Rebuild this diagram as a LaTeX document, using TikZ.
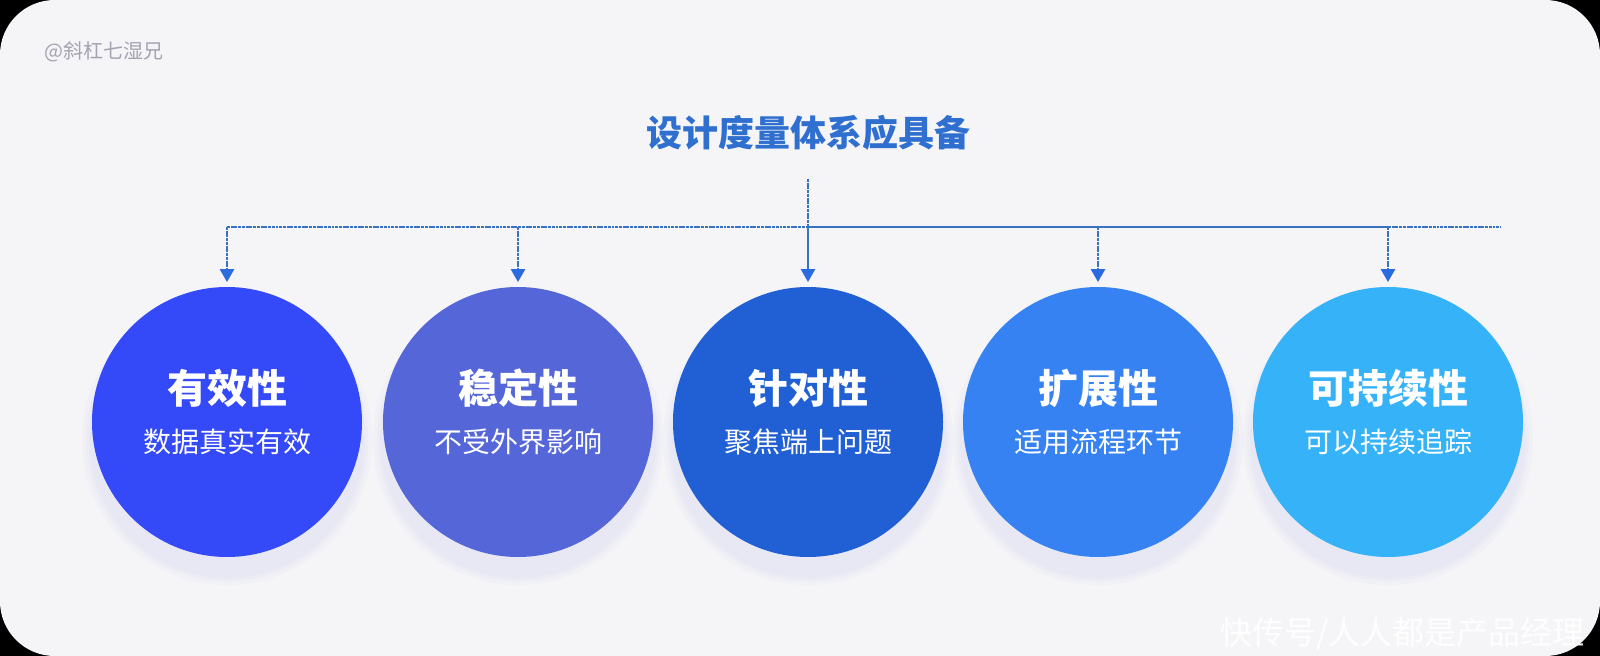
\documentclass[tikz,border=0pt]{standalone}
\usepackage{fontspec}
\setmainfont{Noto Sans CJK SC}
\usetikzlibrary{arrows.meta}
\definecolor{bgc}{HTML}{F5F5F7}
\definecolor{linec}{HTML}{3A72C2}
\definecolor{tipc}{HTML}{2A6CE0}
\definecolor{titlec}{HTML}{2F6FD0}
\definecolor{markc}{HTML}{A3A3B2}
\definecolor{shc}{HTML}{C9CDF0}
\definecolor{ca}{HTML}{3449F7}
\definecolor{cb}{HTML}{5566D9}
\definecolor{cc}{HTML}{2060D4}
\definecolor{cd}{HTML}{3682F2}
\definecolor{ce}{HTML}{36B2F8}
\tikzset{
  ball/.style={circle, minimum size=202.5pt, inner sep=0pt},
  headtxt/.style={text=white, font=\bfseries\fontsize{30pt}{36pt}\selectfont, inner sep=0pt},
  subtxt/.style={text=white, font=\fontsize{21pt}{25pt}\selectfont, inner sep=0pt},
  conn/.style={draw=linec, line width=2pt},
  dotconn/.style={conn, dash pattern=on 2.2pt off 0.6pt},
  tipped/.style={-{Triangle[length=9.75pt,width=10.5pt,color=tipc]}, shorten >=3.5pt}
}
\begin{document}
\begin{tikzpicture}[x=0.75pt,y=-0.75pt]
\useasboundingbox (0,0) rectangle (1600,656);
\fill[black] (0,0) rectangle (1600,656);
\fill[bgc, rounded corners=41pt] (0,0) rectangle (1600,656);

% watermark
\node[anchor=west, text=markc, font=\fontsize{15pt}{18pt}\selectfont, inner sep=0pt] (wm) at (44,52) {@斜杠七湿兄};

% title
\node[text=titlec, font=\bfseries\fontsize{27pt}{32pt}\selectfont, inner sep=0pt] (title) at (808,133) {设计度量体系应具备};

% shadows
\foreach \cx in {227,518,808,1098,1388}{
  \foreach \k in {10,6,3}{
    \fill[shc, opacity=0.10] (\cx,440) circle ({(135+\k)*0.75pt});
  }
}

% circles
\node[ball, fill=ca] (n1) at (227,422) {};
\node[ball, fill=cb] (n2) at (518,422) {};
\node[ball, fill=cc] (n3) at (808,422) {};
\node[ball, fill=cd] (n4) at (1098,422) {};
\node[ball, fill=ce] (n5) at (1388,422) {};

\node[headtxt] (h1) at (227,388) {有效性};
\node[subtxt]  (s1) at (227,442) {数据真实有效};
\node[headtxt] (h2) at (518,388) {稳定性};
\node[subtxt]  (s2) at (518,442) {不受外界影响};
\node[headtxt] (h3) at (808,388) {针对性};
\node[subtxt]  (s3) at (808,442) {聚焦端上问题};
\node[headtxt] (h4) at (1098,388) {扩展性};
\node[subtxt]  (s4) at (1098,442) {适用流程环节};
\node[headtxt] (h5) at (1388,388) {可持续性};
\node[subtxt]  (s5) at (1388,442) {可以持续追踪};

% connectors
\coordinate (top) at (808,179);
\coordinate (L) at (227,227);
\coordinate (R) at (1501,227);
\coordinate (j1) at (227,227);
\coordinate (j2) at (518,227);
\coordinate (j3) at (808,227);
\coordinate (j4) at (1098,227);
\coordinate (j5) at (1388,227);

\draw[dotconn] (L) -- (j3);
\draw[conn] (j3) -- (j5);
\draw[dotconn] (j5) -- (R);
\draw[dotconn] (top) -- (j3);
\draw[conn, tipped] (j3) -- (n3.north);
\draw[dotconn, tipped] (j1) -- (n1.north);
\draw[dotconn, tipped] (j2) -- (n2.north);
\draw[dotconn, tipped] (j4) -- (n4.north);
\draw[dotconn, tipped] (j5) -- (n5.north);

% bottom-right watermark
\node[anchor=west, text=white, opacity=0.9, font=\fontsize{24pt}{29pt}\selectfont, inner sep=0pt] (wm2) at (1220,634) {快传号/人人都是产品经理};
\end{tikzpicture}
\end{document}
